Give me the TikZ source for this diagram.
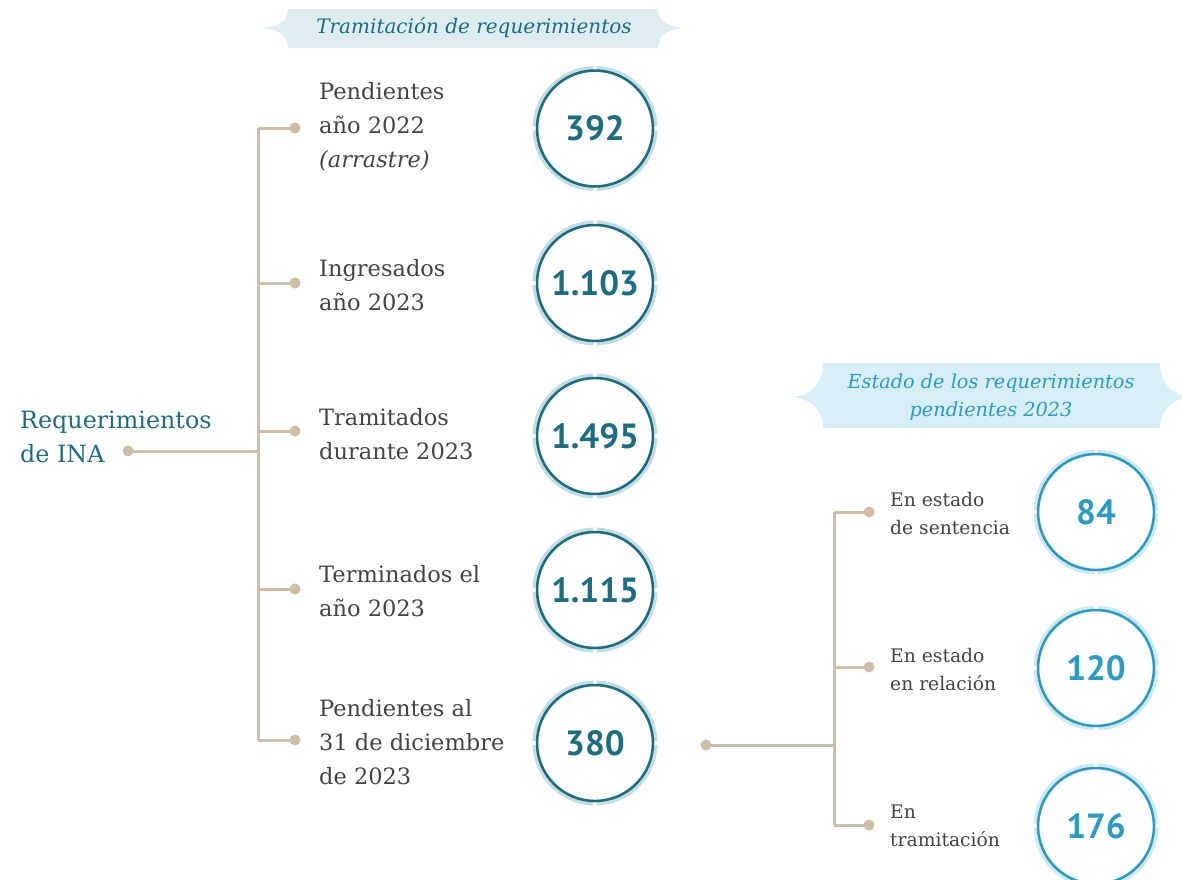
\documentclass[tikz,border=0pt]{standalone}
\usepackage{fontspec}
\setmainfont{DejaVu Serif}
\newfontfamily\numfont{PT Sans}
\definecolor{linec}{HTML}{CDBEA5}
\definecolor{txtgray}{HTML}{444444}
\definecolor{teal}{HTML}{1D6D81}
\definecolor{teallight}{HTML}{C3DDE3}
\definecolor{blue}{HTML}{2A9CC4}
\definecolor{bluelight}{HTML}{CFE9F1}
\definecolor{ban1}{HTML}{DDECEF}
\definecolor{ban2}{HTML}{D7EEF4}
\tikzset{
  conn/.style={draw=linec, line width=3pt},
  dotn/.style={circle, fill=linec, inner sep=0pt, minimum size=11pt},
  lbl/.style={anchor=west, align=left, text=txtgray, font=\fontsize{22.5}{34}\selectfont, inner sep=0pt},
  slbl/.style={anchor=west, align=left, text=txtgray, font=\fontsize{18.7}{28}\selectfont, inner sep=0pt},
  tealring/.style={circle, draw=teal, line width=2.5pt, minimum size=116pt, inner sep=0pt, text=teal, font=\numfont\bfseries\fontsize{35}{35}\selectfont},
  teallightarc/.style={draw=teallight, line width=6pt},
  bluering/.style={circle, draw=blue, line width=2.5pt, minimum size=116pt, inner sep=0pt, text=blue, font=\numfont\bfseries\fontsize{35}{35}\selectfont},
  bluelightarc/.style={draw=bluelight, line width=6pt},
}
\newcommand\ringnum[5]{%
  \foreach \a in {0,90,180,270}{\draw[#4lightarc] (#2,#3) ++(\a+1.8:59.5pt) arc[start angle=\a+1.8, end angle=\a+88.2, radius=59.5pt];}
  \node[#4ring] (#1) at (#2,#3) {#5};
}
\begin{document}
\begin{tikzpicture}[x=1pt,y=-1pt]
\useasboundingbox (0,0) rectangle (1182,879);
\clip (0,0) rectangle (1182,879);
\fill[white] (0,0) rectangle (1182,879);

% banner 1
\fill[ban1] (288,9) -- (658,9) .. controls (658,24) and (672,28) .. (690,28)
  .. controls (672,28) and (658,33) .. (658,48) -- (288,48)
  .. controls (288,33) and (275,28) .. (258,28)
  .. controls (275,28) and (288,24) .. (288,9) -- cycle;
\node[text=teal, font=\itshape\fontsize{20}{24}\selectfont] (t1) at (474,28) {Tramitación de requerimientos};

% banner 2
\fill[ban2] (823,363) -- (1160,363) .. controls (1160,385) and (1175,397) .. (1192,397)
  .. controls (1175,397) and (1160,409) .. (1160,428) -- (823,428)
  .. controls (823,409) and (808,397) .. (792,397)
  .. controls (808,397) and (823,385) .. (823,363) -- cycle;
\node[text=blue, align=center, font=\itshape\fontsize{19.3}{28}\selectfont] (t2) at (991,397) {Estado de los requerimientos\\pendientes 2023};

% left title
\node[anchor=west, align=left, text=teal, font=\fontsize{23.8}{34}\selectfont, inner sep=0pt] (root) at (20,437) {Requerimientos\\de INA};

% left tree dots
\node[dotn] (d0) at (128,451) {};
\node[dotn] (d1) at (295,128) {};
\node[dotn] (d2) at (295,283) {};
\node[dotn] (d3) at (295,431) {};
\node[dotn] (d4) at (295,589) {};
\node[dotn] (d5) at (295,740) {};
\coordinate (jt) at (258,128);
\coordinate (jb) at (258,740);
\draw[conn] (d0.center) -- (jt |- d0);
\draw[conn] (jt) -- (jb);
\foreach \d in {d1,d2,d3,d4,d5}{\draw[conn] (jt |- \d) -- (\d.center);}

% labels
\node[lbl] (l1) at (319,127) {Pendientes\\año 2022\\\textit{(arrastre)}};
\node[lbl] (l2) at (319,285) {Ingresados\\año 2023};
\node[lbl] (l3) at (319,434) {Tramitados\\durante 2023};
\node[lbl] (l4) at (319,591) {Terminados el\\año 2023};
\node[lbl] (l5) at (319,742) {Pendientes al\\31 de diciembre\\de 2023};

% circles
\ringnum{c1}{595}{128.5}{teal}{392}
\ringnum{c2}{595}{283}{teal}{1.103}
\ringnum{c3}{595}{436}{teal}{1.495}
\ringnum{c4}{595}{590}{teal}{1.115}
\ringnum{c5}{595}{743}{teal}{380}

% right tree
\node[dotn] (e0) at (706,745) {};
\node[dotn] (e1) at (869,512) {};
\node[dotn] (e2) at (869,667) {};
\node[dotn] (e3) at (869,825) {};
\coordinate (kt) at (834,512);
\coordinate (kb) at (834,825);
\draw[conn] (e0.center) -- (kt |- e0);
\draw[conn] (kt) -- (kb);
\foreach \d in {e1,e2,e3}{\draw[conn] (kt |- \d) -- (\d.center);}

\node[slbl] (m1) at (890,514) {En estado\\de sentencia};
\node[slbl] (m2) at (890,670) {En estado\\en relación};
\node[slbl] (m3) at (890,826) {En\\tramitación};

\ringnum{r1}{1096}{512}{blue}{84}
\ringnum{r2}{1096}{668}{blue}{120}
\ringnum{r3}{1096}{826}{blue}{176}
\end{tikzpicture}
\end{document}
